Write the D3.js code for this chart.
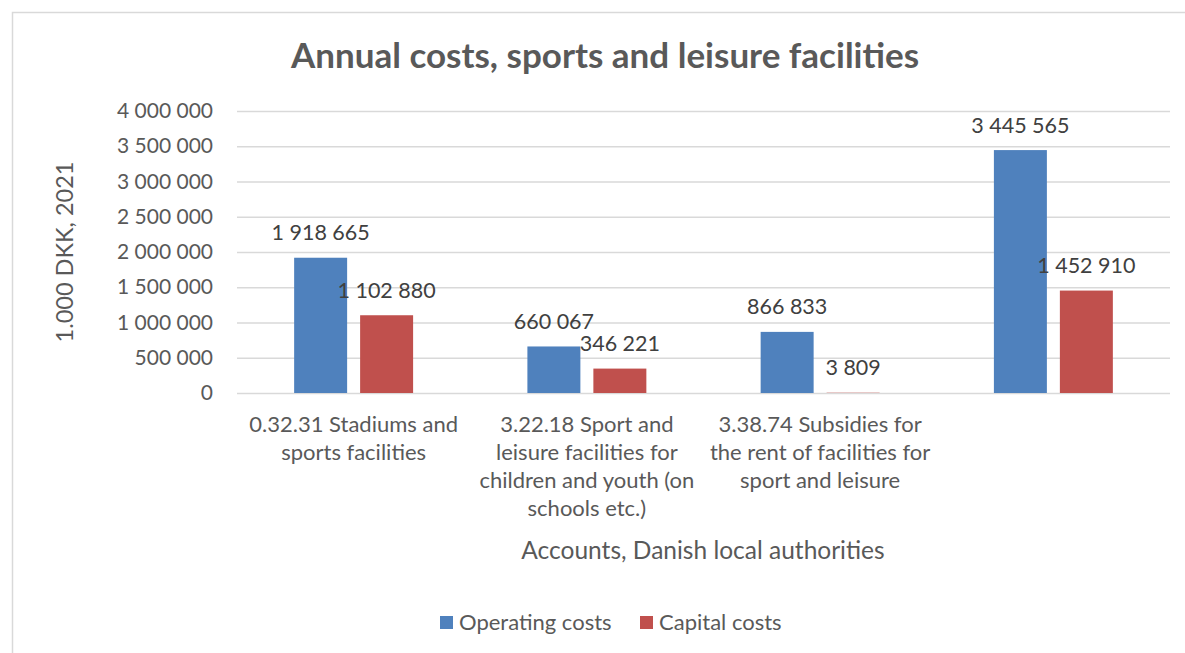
<!DOCTYPE html>
<html>
<head>
<meta charset="utf-8">
<script src="https://cdn.jsdelivr.net/npm/d3@7"></script>
<style>
  html, body { margin: 0; padding: 0; background: #fff; }
  svg { display: block; font-family: Lato, "Open Sans", sans-serif; }
</style>
</head>
<body>
<svg id="chart" width="1185" height="653"></svg>
<script>
// Account categories (line breaks mark where the axis label wraps)
const categories = [
  "0.32.31 Stadiums and\nsports facilities",
  "3.22.18 Sport and\nleisure facilities for\nchildren and youth (on\nschools etc.)",
  "3.38.74 Subsidies for\nthe rent of facilities for\nsport and leisure",
  ""
];
const seriesNames = ["Operating costs", "Capital costs"];
const operatingCosts = [1918665, 660067, 866833, 3445565];
const capitalCosts = [1102880, 346221, 3809, 1452910];
const yTicks = [0, 500000, 1000000, 1500000, 2000000, 2500000, 3000000, 3500000, 4000000];

const colors = { "Operating costs": "#4F81BD", "Capital costs": "#C0504D" };
const values = { "Operating costs": operatingCosts, "Capital costs": capitalCosts };

// Danish-style thousands grouping with spaces
const fmt = v => d3.format(",")(v).replace(/,/g, " ");

const svg = d3.select("#chart");
const W = 1185, H = 653;
const plot = { left: 237, right: 1170, top: 111, bottom: 393 };

// Chart frame
svg.append("rect")
  .attr("x", 12.5).attr("y", 12.5)
  .attr("width", W).attr("height", H)
  .attr("fill", "#fff")
  .attr("stroke", "#d9d9d9").attr("stroke-width", 1.5);

const x0 = d3.scaleBand().domain(d3.range(categories.length))
  .range([plot.left, plot.right]).padding(0);
const bw = x0.bandwidth();
const x1 = d3.scaleBand().domain(seriesNames)
  .range([bw * 0.245, bw * 0.755]).paddingInner(13 / 66);
const y = d3.scaleLinear().domain([0, 4000000]).range([plot.bottom, plot.top]);

// Gridlines and y tick labels
const yAxis = d3.axisLeft(y).tickValues(yTicks).tickSize(-(plot.right - plot.left))
  .tickPadding(24).tickFormat(fmt);
const gy = svg.append("g").attr("transform", `translate(${plot.left},0)`).call(yAxis);
gy.select(".domain").remove();
gy.selectAll(".tick line").attr("stroke", "#d9d9d9").attr("stroke-width", 1.3);
gy.selectAll(".tick text")
  .attr("fill", "#595959").attr("font-size", 21).attr("font-family", "Lato");

// Bars
const groups = svg.append("g").selectAll("g")
  .data(categories.map((c, i) => i))
  .join("g")
  .attr("transform", i => `translate(${x0(i)},0)`);

groups.selectAll("rect")
  .data(i => seriesNames.map(s => ({ s, v: values[s][i] })))
  .join("rect")
  .attr("x", d => x1(d.s))
  .attr("y", d => y(d.v))
  .attr("width", x1.bandwidth())
  .attr("height", d => y(0) - y(d.v))
  .attr("fill", d => colors[d.s]);

// Value labels above bars
groups.selectAll("text.val")
  .data(i => seriesNames.map(s => ({ s, v: values[s][i] })))
  .join("text")
  .attr("class", "val")
  .attr("x", d => x1(d.s) + x1.bandwidth() / 2)
  .attr("y", d => y(d.v) - 25)
  .attr("dy", "0.35em")
  .attr("text-anchor", "middle")
  .attr("fill", "#404040")
  .attr("font-size", 21.5)
  .text(d => fmt(d.v));

// Category labels
const catG = svg.append("g");
categories.forEach((c, i) => {
  const t = catG.append("text")
    .attr("text-anchor", "middle")
    .attr("fill", "#595959")
    .attr("font-size", 22);
  c.split("\n").forEach((line, k) => {
    t.append("tspan")
      .attr("x", x0(i) + bw / 2)
      .attr("y", 424 + k * 28)
      .attr("dy", "0.35em")
      .text(line);
  });
});

// Title
svg.append("text")
  .attr("x", 605).attr("y", 56).attr("dy", "0.35em")
  .attr("text-anchor", "middle")
  .attr("fill", "#595959")
  .attr("font-size", 35).attr("font-weight", "bold")
  .text("Annual costs, sports and leisure facilities");

// Axis titles
svg.append("text")
  .attr("transform", "translate(65,252) rotate(-90)")
  .attr("dy", "0.35em")
  .attr("text-anchor", "middle")
  .attr("fill", "#595959")
  .attr("font-size", 23.5)
  .text("1.000 DKK, 2021");

svg.append("text")
  .attr("x", 703).attr("y", 550).attr("dy", "0.35em")
  .attr("text-anchor", "middle")
  .attr("fill", "#595959")
  .attr("font-size", 24.5)
  .text("Accounts, Danish local authorities");

// Legend
const legendX = [440, 640];
const lg = svg.append("g").selectAll("g").data(seriesNames).join("g")
  .attr("transform", (d, i) => `translate(${legendX[i]},622)`);
lg.append("rect").attr("x", 0).attr("y", -6).attr("width", 13).attr("height", 13)
  .attr("fill", d => colors[d]);
lg.append("text").attr("x", 19).attr("dy", "0.35em")
  .attr("fill", "#595959").attr("font-size", 22)
  .text(d => d);
</script>
</body>
</html>
